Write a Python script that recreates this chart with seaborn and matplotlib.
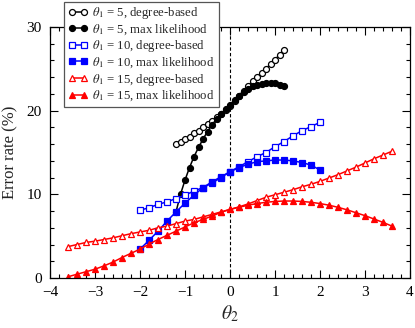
import matplotlib
matplotlib.use("Agg")
import matplotlib.pyplot as plt
import seaborn as sns
from matplotlib.ticker import MultipleLocator

# theta_1 = 5 series (step 0.1)
x5 = [-1.2, -1.1, -1.0, -0.9, -0.8, -0.7, -0.6, -0.5, -0.4, -0.3, -0.2, -0.1, 0.0,
      0.1, 0.2, 0.3, 0.4, 0.5, 0.6, 0.7, 0.8, 0.9, 1.0, 1.1, 1.2]
deg5 = [16.0, 16.3, 16.6, 16.9, 17.3, 17.6, 18.0, 18.4, 18.8, 19.2, 19.6, 20.1, 20.6,
        21.2, 21.8, 22.4, 23.0, 23.5, 24.0, 24.5, 25.0, 25.6, 26.1, 26.7, 27.3]
ml5 = [7.9, 10.0, 11.7, 13.2, 14.5, 15.6, 16.6, 17.5, 18.3, 19.0, 19.6, 20.2, 20.7,
       21.3, 21.8, 22.2, 22.6, 22.9, 23.1, 23.2, 23.3, 23.3, 23.3, 23.1, 22.9]

# theta_1 = 10 series (step 0.2)
x10 = [-2.0, -1.8, -1.6, -1.4, -1.2, -1.0, -0.8, -0.6, -0.4, -0.2, 0.0,
       0.2, 0.4, 0.6, 0.8, 1.0, 1.2, 1.4, 1.6, 1.8, 2.0]
deg10 = [8.1, 8.4, 8.8, 9.1, 9.5, 9.9, 10.4, 10.8, 11.35, 12.0, 12.7,
         13.3, 13.9, 14.5, 15.0, 15.7, 16.3, 17.0, 17.6, 18.1, 18.6]
ml10 = [3.45, 4.5, 5.6, 6.8, 7.9, 8.95, 9.9, 10.8, 11.5, 12.1, 12.7,
        13.2, 13.6, 13.9, 14.0, 14.1, 14.1, 14.0, 13.8, 13.5, 12.9]

# theta_1 = 15 series (step 0.2)
x15 = [-3.6, -3.4, -3.2, -3.0, -2.8, -2.6, -2.4, -2.2, -2.0, -1.8, -1.6, -1.4, -1.2,
       -1.0, -0.8, -0.6, -0.4, -0.2, 0.0, 0.2, 0.4, 0.6, 0.8, 1.0, 1.2, 1.4, 1.6,
       1.8, 2.0, 2.2, 2.4, 2.6, 2.8, 3.0, 3.2, 3.4, 3.6]
deg15 = [3.75, 4.0, 4.25, 4.4, 4.6, 4.8, 5.05, 5.3, 5.5, 5.7, 6.0, 6.2, 6.5,
         6.8, 7.0, 7.3, 7.6, 7.9, 8.2, 8.5, 8.85, 9.25, 9.65, 9.95, 10.25, 10.55, 10.9,
         11.2, 11.55, 11.95, 12.35, 12.8, 13.25, 13.75, 14.25, 14.7, 15.15]
ml15 = [0.15, 0.45, 0.75, 1.05, 1.45, 1.9, 2.45, 2.95, 3.45, 4.05, 4.6, 5.1, 5.6,
        6.1, 6.6, 7.0, 7.4, 7.85, 8.2, 8.45, 8.7, 8.9, 9.05, 9.15, 9.2, 9.2, 9.15,
        9.05, 8.9, 8.7, 8.45, 8.15, 7.8, 7.45, 7.05, 6.65, 6.2]

sns.set_style("ticks")
plt.rcParams["font.family"] = ["Liberation Serif", "DejaVu Serif"]
plt.rcParams["mathtext.fontset"] = "stix"

fig = plt.figure(figsize=(4.15, 3.28), dpi=100)
ax = fig.add_axes([50 / 415, 50 / 328, 360 / 415, 251 / 328])

series = [
    (x5, deg5, "black", "o", False, r"$\theta_1$ = 5, degree-based"),
    (x5, ml5, "black", "o", True, r"$\theta_1$ = 5, max likelihood"),
    (x10, deg10, "blue", "s", False, r"$\theta_1$ = 10, degree-based"),
    (x10, ml10, "blue", "s", True, r"$\theta_1$ = 10, max likelihood"),
    (x15, deg15, "red", "^", False, r"$\theta_1$ = 15, degree-based"),
    (x15, ml15, "red", "^", True, r"$\theta_1$ = 15, max likelihood"),
]

handles = []
for xs, ys, col, mk, filled, lab in series:
    sns.lineplot(x=xs, y=ys, ax=ax, color=col, marker=mk, markersize=4.3,
                 markerfacecolor=col if filled else "white",
                 markeredgecolor=col, markeredgewidth=0.9, linewidth=1.1,
                 estimator=None, sort=False, label=lab, legend=False)
    handles.append(ax.lines[-1])

ax.axvline(0, color="black", linestyle=(0, (3, 2)), linewidth=0.8, zorder=0)

ax.set_xlim(-4, 4)
ax.set_ylim(0, 30)
ax.xaxis.set_major_locator(MultipleLocator(1))
ax.xaxis.set_minor_locator(MultipleLocator(0.2))
ax.yaxis.set_major_locator(MultipleLocator(10))
ax.yaxis.set_minor_locator(MultipleLocator(2))
ax.tick_params(which="both", direction="in", top=True, right=True,
               labelsize=11, width=0.8, colors="black")
ax.tick_params(which="major", length=6, pad=6)
ax.tick_params(which="minor", length=3)
for sp in ax.spines.values():
    sp.set_linewidth(0.9)
    sp.set_color("black")

ax.set_xlabel(r"$\theta_2$", fontsize=14, labelpad=3)
ax.set_ylabel("Error rate (%)", fontsize=12, labelpad=6)

leg = fig.legend(handles=handles, loc="upper left",
                 bbox_to_anchor=(64 / 415, 1 - 1.5 / 328),
                 fontsize=9.2, numpoints=2, handlelength=1.6,
                 handletextpad=0.3, labelspacing=0.1, borderpad=0.3,
                 borderaxespad=0, fancybox=False, framealpha=1)
leg.get_frame().set_edgecolor("#555555")
leg.get_frame().set_linewidth(0.9)

fig.savefig("out.png", dpi=100)
